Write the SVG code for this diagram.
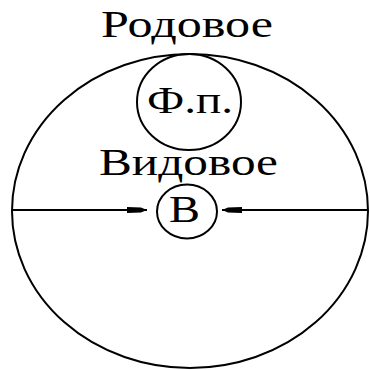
<svg xmlns="http://www.w3.org/2000/svg" width="370" height="370" viewBox="0 0 370 370">
<style>
.sh{fill:none;stroke:#000;stroke-width:2}
.t{font-family:"Liberation Serif","Times New Roman",serif;fill:#000;font-size:37px}
.ln{stroke:#000;stroke-width:2;fill:none}
</style>
<defs>
<marker id="ah" viewBox="0 0 20 8" refX="20" refY="4" markerWidth="20" markerHeight="8" markerUnits="userSpaceOnUse" orient="auto">
<path d="M0,1 L14,1.5 L20,4 L14,6.5 L0,7 Z" fill="#000"/>
</marker>
</defs>
<rect width="370" height="370" fill="#fff"/>
<g id="genus">
<ellipse class="sh" cx="190" cy="211" rx="178" ry="157"/>
</g>
<text class="t" x="101" y="37" textLength="172" lengthAdjust="spacingAndGlyphs">Родовое</text>
<g id="fp">
<ellipse class="sh" cx="189" cy="102" rx="52" ry="48"/>
<text class="t" x="147" y="113" textLength="86" lengthAdjust="spacingAndGlyphs">Ф.п.</text>
</g>
<text class="t" x="99" y="175" textLength="179" lengthAdjust="spacingAndGlyphs">Видовое</text>
<g id="v">
<ellipse class="sh" cx="187" cy="211.5" rx="30" ry="27"/>
<text class="t" x="169" y="222" textLength="31" lengthAdjust="spacingAndGlyphs">В</text>
</g>
<g id="connectors">
<line class="ln" x1="12" y1="210" x2="147" y2="210" marker-end="url(#ah)"/>
<line class="ln" x1="368" y1="210" x2="222" y2="210" marker-end="url(#ah)"/>
</g>
</svg>
